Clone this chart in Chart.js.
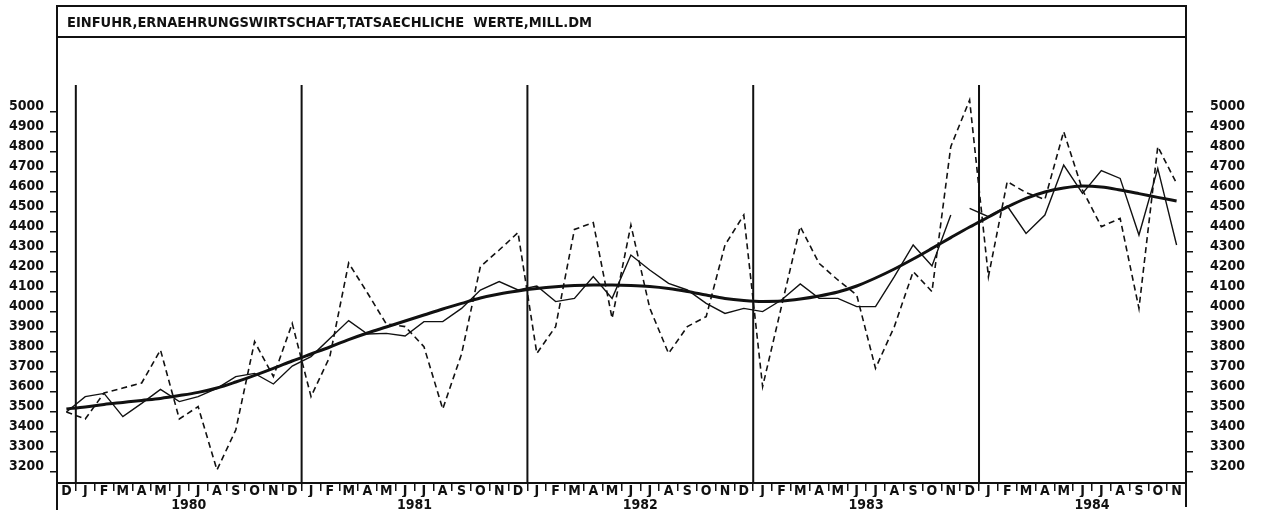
<!DOCTYPE html>
<html>
<head>
<meta charset="utf-8">
<script src="https://cdn.jsdelivr.net/npm/chart.js@4/dist/chart.umd.min.js"></script>
<style>
  html, body { margin: 0; background: #fff; }
</style>
</head>
<body>
<canvas id="chart" width="1263" height="521"></canvas>
<script>
// Einfuhr Ernaehrungswirtschaft, Mill. DM, Dez 1979 - Nov 1984
const titel = 'EINFUHR,ERNAEHRUNGSWIRTSCHAFT,TATSAECHLICHE  WERTE,MILL.DM';
const monate = ['D',
  'J','F','M','A','M','J','J','A','S','O','N','D',
  'J','F','M','A','M','J','J','A','S','O','N','D',
  'J','F','M','A','M','J','J','A','S','O','N','D',
  'J','F','M','A','M','J','J','A','S','O','N','D',
  'J','F','M','A','M','J','J','A','S','O','N'];
const jahre = ['1980', '1981', '1982', '1983', '1984'];
const ersterJanuar = 1;          // index of Jan 1980 in monate
const yTicks = [3200, 3300, 3400, 3500, 3600, 3700, 3800, 3900, 4000, 4100,
  4200, 4300, 4400, 4500, 4600, 4700, 4800, 4900, 5000];

// tatsaechliche Werte (gestrichelt)
const tatsaechlich = [3500,
  3465, 3595, 3620, 3645, 3810, 3465, 3527, 3210, 3410, 3852, 3677, 3943,
  3577, 3777, 4245, 4095, 3940, 3927, 3827, 3515, 3790, 4227, 4310, 4397,
  3793, 3927, 4413, 4447, 3968, 4435, 4020, 3793, 3927, 3977, 4335, 4485,
  3627, 4027, 4427, 4243, 4160, 4085, 3718, 3927, 4202, 4102, 4827, 5060,
  4177, 4652, 4597, 4563, 4902, 4610, 4427, 4468, 4018, 4827, 4643];
// bereinigte Werte (duenn)
const bereinigt = [3500,
  3577, 3593, 3477, 3543, 3613, 3552, 3577, 3618, 3677, 3693, 3640, 3730,
  3777, 3868, 3957, 3890, 3893, 3880, 3952, 3952, 4018, 4110, 4152, 4110,
  4130, 4052, 4068, 4177, 4068, 4285, 4210, 4143, 4110, 4043, 3993, 4018,
  4002, 4060, 4140, 4068, 4068, 4027, 4027, 4177, 4335, 4230, 4485, 4518,
  4477, 4530, 4393, 4485, 4735, 4593, 4707, 4668, 4385, 4718, 4335];
const bruchNach = 47;            // solid line is broken between Nov and Dec 1983
// Trend (dick)
const trend = [3515,
  3525, 3538, 3548, 3558, 3568, 3582, 3598, 3620, 3650, 3683, 3718, 3755,
  3790, 3825, 3862, 3895, 3925, 3955, 3985, 4015, 4043, 4070, 4090, 4105,
  4117, 4126, 4132, 4135, 4135, 4133, 4128, 4118, 4103, 4085, 4068, 4058,
  4053, 4055, 4065, 4080, 4100, 4130, 4170, 4215, 4265, 4318, 4372, 4425,
  4475, 4525, 4568, 4600, 4620, 4630, 4625, 4610, 4592, 4573, 4555];

const ink = '#111';
const fam = "'DejaVu Sans Condensed', 'Liberation Sans Narrow', 'DejaVu Sans', sans-serif";
const tickFont = { family: fam, size: 14, weight: 'bold' };

// frame, title box and the year separators
const rahmen = {
  id: 'rahmen',
  beforeDatasetsDraw(chart) {
    const { ctx, chartArea: a, scales: { x } } = chart;
    ctx.save();
    ctx.strokeStyle = ink;
    ctx.lineWidth = 2;
    ctx.beginPath();
    for (let i = ersterJanuar; i < monate.length; i += 12) {
      const px = (x.getPixelForValue(i - 1) + x.getPixelForValue(i)) / 2;
      ctx.moveTo(px, a.top);
      ctx.lineTo(px, a.bottom);
    }
    ctx.stroke();
    ctx.restore();
  },
  afterDraw(chart) {
    const { ctx, chartArea: a } = chart;
    ctx.save();
    ctx.strokeStyle = ink;
    ctx.lineWidth = 2;
    ctx.beginPath();
    ctx.moveTo(a.left, 510);
    ctx.lineTo(a.left, 6);
    ctx.lineTo(a.right, 6);
    ctx.lineTo(a.right, 507);
    ctx.moveTo(a.left, 37);
    ctx.lineTo(a.right, 37);
    ctx.stroke();
    ctx.fillStyle = ink;
    ctx.font = 'bold 14.5px ' + fam;
    ctx.textBaseline = 'middle';
    ctx.fillText(titel, a.left + 10, 23);
    ctx.restore();
  }
};

const yAchse = (pos) => ({
  type: 'linear',
  position: pos,
  min: 3145,
  max: 5135,
  afterBuildTicks: s => { s.ticks = yTicks.map(v => ({ value: v })); },
  afterFit: s => { s.width = pos === 'left' ? 57 : 77; },
  grid: { drawOnChartArea: false, drawTicks: true, tickLength: 7, color: ink, lineWidth: 1.5 },
  border: { display: false },
  ticks: {
    color: ink, font: tickFont, padding: pos === 'left' ? 6 : 17,
    labelOffset: -6, autoSkip: false, callback: v => String(v)
  }
});

new Chart(document.getElementById('chart'), {
  type: 'line',
  data: {
    labels: monate,
    datasets: [
      {
        data: tatsaechlich, borderColor: ink, borderWidth: 1.6, borderDash: [6, 4],
        pointRadius: 0, tension: 0, clip: false
      },
      {
        data: bereinigt, borderColor: ink, borderWidth: 1.4, pointRadius: 0, tension: 0, clip: false,
        segment: { borderColor: c => c.p0DataIndex === bruchNach ? 'rgba(0,0,0,0)' : undefined }
      },
      {
        data: trend, borderColor: ink, borderWidth: 3, pointRadius: 0,
        cubicInterpolationMode: 'monotone', clip: false
      }
    ]
  },
  options: {
    responsive: false,
    devicePixelRatio: 1,
    animation: false,
    layout: { padding: { top: 85, left: 0, right: 0, bottom: 0 } },
    plugins: { legend: { display: false }, tooltip: { enabled: false } },
    scales: {
      x: {
        type: 'category',
        position: 'bottom',
        offset: true,
        afterFit: s => { s.height = 14; },
        grid: { offset: true, drawOnChartArea: false, drawTicks: true, tickLength: 8, color: ink, lineWidth: 1.5 },
        border: { display: true, color: ink, width: 2 },
        ticks: { color: ink, font: tickFont, padding: -8, maxRotation: 0, autoSkip: false }
      },
      x2: {
        type: 'linear',
        position: 'bottom',
        weight: 1,
        min: -0.5,
        max: monate.length - 0.5,
        afterBuildTicks: s => { s.ticks = jahre.map((j, k) => ({ value: ersterJanuar + 12 * k + 5.5 })); },
        afterFit: s => { s.height = 24; },
        grid: { display: false },
        border: { display: false },
        ticks: { color: ink, font: tickFont, padding: -8, callback: (v, i) => jahre[i] }
      },
      y: yAchse('left'),
      y2: yAchse('right')
    }
  },
  plugins: [rahmen]
});
</script>
</body>
</html>
